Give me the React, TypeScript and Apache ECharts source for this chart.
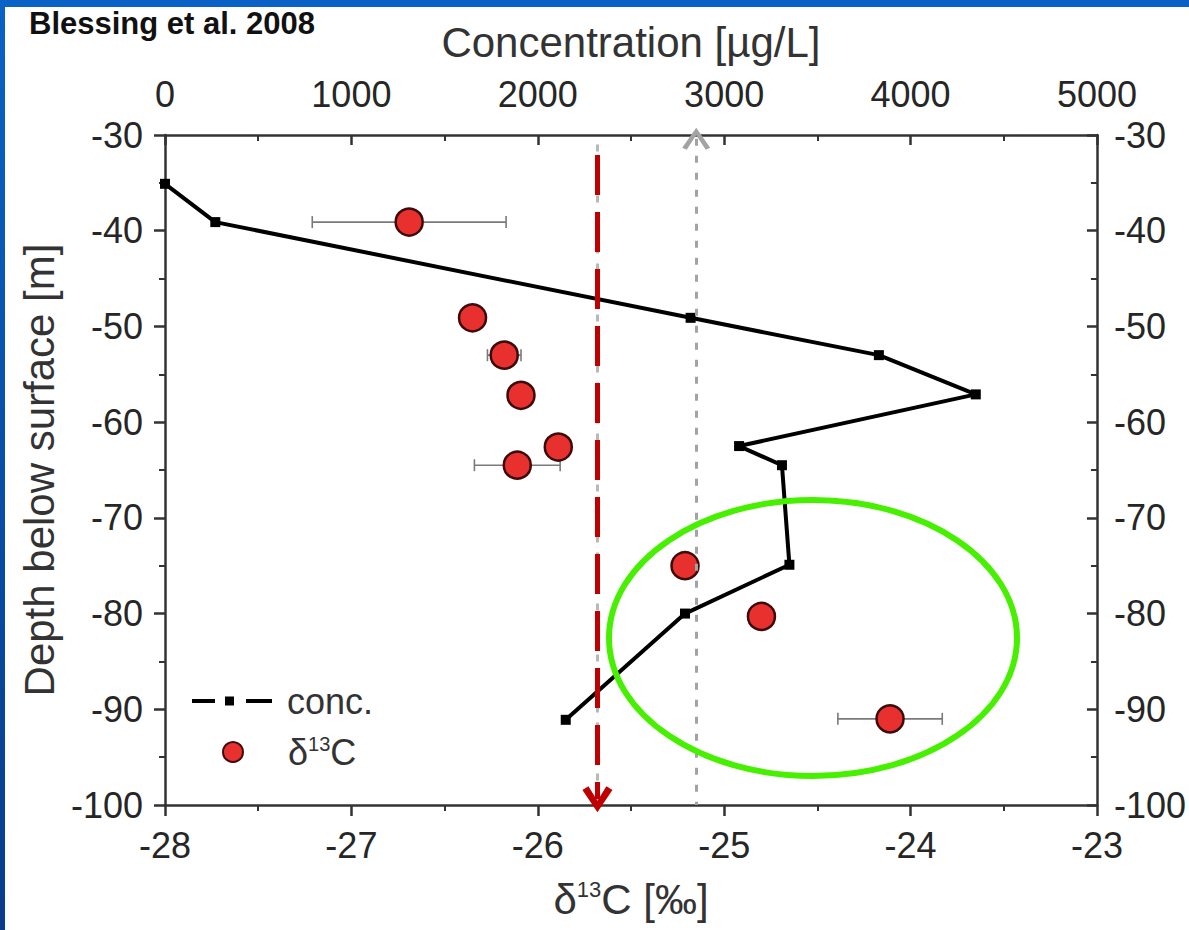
import React, { useEffect, useRef } from 'react';
import * as echarts from 'echarts';

// ---- data ----
const concDepths = [-35.1, -39.1, -49.1, -53.0, -57.1, -62.5, -64.5, -74.9, -80.0, -91.1];
const concValues = [0, 270, 2820, 3830, 4350, 3080, 3310, 3350, 2790, 2150];

const d13cDepths = [-39.1, -49.1, -53.0, -57.2, -62.6, -64.5, -75.0, -80.3, -91.0];
const d13cValues = [-26.69, -26.35, -26.18, -26.09, -25.89, -26.11, -25.21, -24.8, -24.11];
const d13cErrors = [0.52, 0, 0.09, 0.03, 0, 0.23, 0, 0, 0.28];

const d13cTicks = [-28, -27, -26, -25, -24, -23];
const concTicks = [0, 1000, 2000, 3000, 4000, 5000];
const depthTicks = [-100, -90, -80, -70, -60, -50, -40, -30];

const redLineD13C = -25.68;
const grayLineConc = 2850;

const FONT = "'Liberation Sans', Arial, Helvetica, sans-serif";
const AXIS_COLOR = '#333';
const LABEL_COLOR = '#262626';

const chevronUp = 'path://M5,0 L10,9 L8.4,10 L5,3.4 L1.6,10 L0,9 Z';
const chevronThick = 'path://M5,0 L10,8.6 L8,10 L5,4.4 L2,10 L0,8.6 Z';
const legendLineIcon = 'path://M0,3 L23,3 L23,7 L0,7 Z M33,0.5 L42,0.5 L42,9.5 L33,9.5 Z M54,3 L80,3 L80,7 L54,7 Z';

export default function App() {
  const ref = useRef<HTMLDivElement>(null);

  useEffect(() => {
    if (!ref.current) return;
    const chart = echarts.init(ref.current, null, { renderer: 'svg' });

    const axisLineStyle = { color: AXIS_COLOR, width: 2.5 };
    const labelStyle = { fontSize: 36, color: LABEL_COLOR, fontFamily: FONT };
    const nameStyle = { fontSize: 42, color: '#333', fontFamily: FONT };

    const errData = d13cValues
      .map((v, i) => [v, d13cDepths[i], v - d13cErrors[i], v + d13cErrors[i], d13cErrors[i]])
      .filter((r) => r[4] > 0);

    const option: any = {
      animation: false,
      backgroundColor: '#ffffff',
      title: {
        text: 'Blessing et al. 2008',
        left: 24,
        top: 3,
        textStyle: { fontFamily: FONT, fontSize: 31, fontWeight: 'bold', color: '#111' },
      },
      grid: { left: 165, right: 90, top: 135, bottom: 125, containLabel: false },
      legend: [
        {
          data: [{ name: 'conc.', icon: legendLineIcon }],
          left: 192,
          top: 683,
          orient: 'vertical',
          padding: 0,
          itemWidth: 80,
          itemHeight: 10,
          textStyle: { fontSize: 36, fontFamily: FONT, color: '#333', padding: [0, 0, 0, 10] },
        },
        {
          data: [{ name: 'δ13C', icon: 'circle' }],
          left: 222,
          top: 734,
          orient: 'vertical',
          padding: 0,
          itemWidth: 20,
          itemHeight: 20,
          formatter: '{d|δ}{s|13}{d|C}',
          textStyle: {
            fontSize: 36,
            fontFamily: FONT,
            color: '#333',
            padding: [0, 0, 0, 40],
            rich: {
              d: { fontSize: 36, fontFamily: FONT, color: '#333' },
              s: { fontSize: 20, fontFamily: FONT, color: '#333', verticalAlign: 'top' },
            },
          },
        },
      ],
      xAxis: [
        {
          type: 'value',
          position: 'bottom',
          min: d13cTicks[0],
          max: d13cTicks[d13cTicks.length - 1],
          interval: 1,
          name: '{d|δ}{s|13}{d|C [‰]}',
          nameLocation: 'middle',
          nameGap: 73,
          nameTextStyle: {
            ...nameStyle,
            rich: {
              d: { ...nameStyle },
              s: { fontSize: 22, color: '#333', fontFamily: FONT, verticalAlign: 'top' },
            },
          },
          axisLine: { show: true, onZero: false, lineStyle: axisLineStyle },
          axisTick: { show: true, inside: false, length: 11, lineStyle: axisLineStyle },
          minorTick: { show: true, splitNumber: 2, length: 6, lineStyle: { color: AXIS_COLOR, width: 2 } },
          axisLabel: { ...labelStyle, margin: 22 },
          splitLine: { show: false },
        },
        {
          type: 'value',
          position: 'top',
          min: concTicks[0],
          max: concTicks[concTicks.length - 1],
          interval: 1000,
          name: 'Concentration [µg/L]',
          nameLocation: 'middle',
          nameGap: 72,
          nameTextStyle: nameStyle,
          axisLine: { show: true, onZero: false, lineStyle: axisLineStyle },
          axisTick: { show: true, inside: true, length: 10, lineStyle: axisLineStyle },
          minorTick: { show: true, splitNumber: 2, length: 6, lineStyle: { color: AXIS_COLOR, width: 2 } },
          axisLabel: { ...labelStyle, margin: 23, formatter: (v: number) => String(v) },
          splitLine: { show: false },
        },
      ],
      yAxis: [
        {
          type: 'value',
          position: 'left',
          min: depthTicks[0],
          max: depthTicks[depthTicks.length - 1],
          interval: 10,
          name: 'Depth below surface [m]',
          nameLocation: 'middle',
          nameGap: 104,
          nameTextStyle: nameStyle,
          axisLine: { show: true, onZero: false, lineStyle: axisLineStyle },
          axisTick: { show: true, inside: false, length: 11, lineStyle: axisLineStyle },
          minorTick: { show: true, splitNumber: 2, length: 6, lineStyle: { color: AXIS_COLOR, width: 2 } },
          axisLabel: { ...labelStyle, margin: 22 },
          splitLine: { show: false },
        },
        {
          type: 'value',
          position: 'right',
          min: depthTicks[0],
          max: depthTicks[depthTicks.length - 1],
          interval: 10,
          axisLine: { show: true, onZero: false, lineStyle: axisLineStyle },
          axisTick: { show: true, inside: true, length: 10, lineStyle: axisLineStyle },
          minorTick: { show: true, splitNumber: 2, length: 6, lineStyle: { color: AXIS_COLOR, width: 2 } },
          axisLabel: { ...labelStyle, margin: 17 },
          splitLine: { show: false },
        },
      ],
      series: [
        {
          type: 'custom',
          name: 'err',
          xAxisIndex: 0,
          yAxisIndex: 0,
          z: 2,
          silent: true,
          encode: { x: [2, 3], y: 1 },
          data: errData,
          renderItem: (params: any, api: any) => {
            const y = api.value(1);
            const p1 = api.coord([api.value(2), y]);
            const p2 = api.coord([api.value(3), y]);
            const cap = 6;
            const style = { stroke: '#7a7a7a', lineWidth: 1.6 };
            return {
              type: 'group',
              children: [
                { type: 'line', shape: { x1: p1[0], y1: p1[1], x2: p2[0], y2: p2[1] }, style },
                { type: 'line', shape: { x1: p1[0], y1: p1[1] - cap, x2: p1[0], y2: p1[1] + cap }, style },
                { type: 'line', shape: { x1: p2[0], y1: p2[1] - cap, x2: p2[0], y2: p2[1] + cap }, style },
              ],
            };
          },
        },
        {
          type: 'line',
          name: 'conc.',
          xAxisIndex: 1,
          yAxisIndex: 0,
          z: 3,
          data: concValues.map((v, i) => [v, concDepths[i]]),
          symbol: 'rect',
          symbolSize: 10,
          showSymbol: true,
          lineStyle: { color: '#000', width: 4 },
          itemStyle: { color: '#000' },
          markLine: {
            silent: true,
            symbol: [chevronUp, 'none'],
            symbolSize: [28, 22],
            label: { show: false },
            lineStyle: { color: '#a3a3a3', width: 3, type: [7, 10] },
            data: [[{ coord: [grayLineConc, -30.4] }, { coord: [grayLineConc, -100] }]],
          },
        },
        {
          type: 'scatter',
          name: 'δ13C',
          xAxisIndex: 0,
          yAxisIndex: 0,
          z: 4,
          data: d13cValues.map((v, i) => [v, d13cDepths[i]]),
          symbol: 'circle',
          symbolSize: 27,
          itemStyle: { color: '#e8302f', borderColor: '#3d0b0b', borderWidth: 2.5, opacity: 1 },
          markLine: {
            silent: true,
            label: { show: false },
            data: [
              [
                { coord: [redLineD13C, -31], symbol: 'none', lineStyle: { color: '#b8b8b8', width: 3, type: [7, 10] } },
                { coord: [redLineD13C, -100], symbol: 'none' },
              ],
              [
                { coord: [redLineD13C, -32.1], symbol: 'none', lineStyle: { color: '#c00000', width: 5, type: [40, 17] } },
                { coord: [redLineD13C, -99.4], symbol: chevronThick, symbolSize: [30, 26] },
              ],
            ],
          },
        },
      ],
      graphic: [
        { type: 'rect', z: 100, shape: { x: 0, y: 0, width: 1189, height: 7 }, style: { fill: '#0a62c6' } },
        {
          type: 'rect',
          z: 100,
          shape: { x: 0, y: 0, width: 5, height: 930 },
          style: {
            fill: new echarts.graphic.LinearGradient(0, 0, 0, 1, [
              { offset: 0, color: '#0a62c6' },
              { offset: 1, color: '#083c8c' },
            ]),
          },
        },
        {
          type: 'ellipse',
          z: 90,
          shape: { cx: 813, cy: 638, rx: 204, ry: 138 },
          style: { fill: 'none', stroke: '#47f000', lineWidth: 6 },
        },
      ],
    };

    chart.setOption(option);
    return () => chart.dispose();
  }, []);

  return (
    <div
      ref={ref}
      style={{ position: 'fixed', left: 0, top: 0, width: 1189, height: 930, background: '#fff' }}
    />
  );
}
